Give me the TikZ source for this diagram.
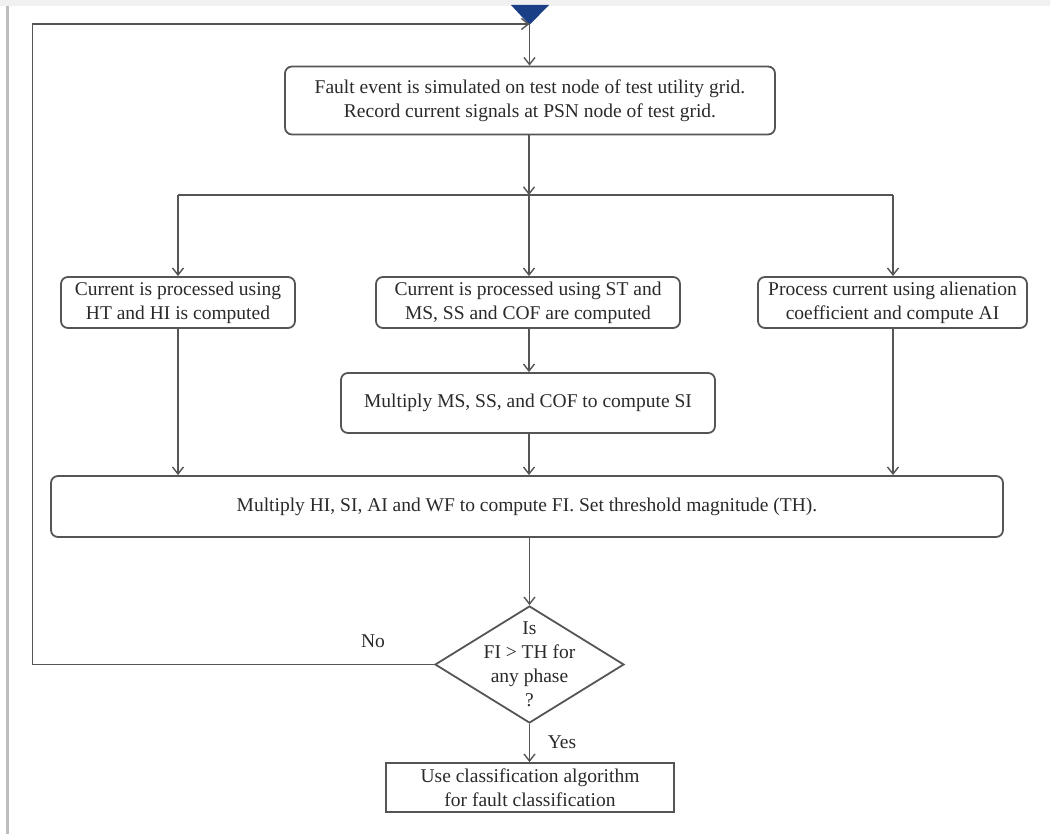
\documentclass[tikz,border=0pt]{standalone}
\usepackage{fontspec}
\setmainfont{Liberation Serif}
\usetikzlibrary{arrows.meta,shapes.geometric,positioning,calc}
\definecolor{linec}{HTML}{555555}
\definecolor{textc}{HTML}{2A2A2A}
\definecolor{navy}{HTML}{1A3F86}
\definecolor{band}{HTML}{F1F1F1}
\definecolor{bar}{HTML}{BDBDBD}
\tikzset{
  txt/.style={text=textc, font=\fontsize{19.5}{24}\selectfont},
  box/.style={draw=linec, line width=1.8pt, rounded corners=7pt, align=center,
    txt, inner sep=0pt},
  sqbox/.style={box, rounded corners=0pt},
  dec/.style={draw=linec, line width=1.8pt, diamond, inner sep=0pt},
  arr/.style={draw=linec, line width=1.8pt, -{Straight Barb[length=7pt,width=11pt,line width=1.4pt]}},
  ln/.style={draw=linec, line width=1.8pt},
  lbl/.style={txt, inner sep=0pt, align=center}
}
\begin{document}
\begin{tikzpicture}[x=1pt,y=-1pt]
\useasboundingbox (0,0) rectangle (1050,834);
% page furniture
\fill[band] (0,0) rectangle (1050,6);
\fill[bar] (6,6) rectangle (8.5,834);
\fill[navy] (511,5) -- (549,5) -- (529.5,25) -- cycle;

% nodes
\node[box, minimum width=490pt, minimum height=68pt] (top) at (530,100.5)
  {Fault event is simulated on test node of test utility grid.\\Record current signals at PSN node of test grid.};
\node[box, minimum width=234pt, minimum height=51pt] (L) at (178,302.5)
  {Current is processed using\\HT and HI is computed};
\node[box, minimum width=304pt, minimum height=51pt] (M) at (528,302.5)
  {Current is processed using ST and\\MS, SS and COF are computed};
\node[box, minimum width=269pt, minimum height=51pt] (R) at (892.5,302.5)
  {Process current using alienation\\coefficient and compute AI};
\node[box, minimum width=374pt, minimum height=60pt] (SI) at (528,403)
  {Multiply MS, SS, and COF to compute SI};
\node[box, minimum width=952pt, minimum height=61pt] (FI) at (527,506.5)
  {Multiply HI, SI, AI and WF to compute FI. Set threshold magnitude (TH).};
\node[dec, minimum width=189pt, minimum height=117pt] (dia) at (529.5,664.5) {};
\node[lbl] (diat) at (dia.center) {Is\\FI > TH for\\any phase\\?};
\node[sqbox, minimum width=288pt, minimum height=49pt] (cls) at (530,787.5)
  {Use classification algorithm\\for fault classification};

% coordinates
\coordinate (join) at (529.5,24);
\coordinate (fbt) at (32.5,24);
\coordinate (fbl) at (32.5,664.5);
\coordinate (br) at (529,195);
\coordinate (brL) at (178,195);
\coordinate (brR) at (893,195);

% connectors
\draw[ln] (dia.west) -- (fbl) -- (fbt) -- (join);
\draw[arr] (fbt) -- (join);
\draw[arr] (join) -- (join |- top.north);
\draw[arr] (top.south -| br) -- (br);
\draw[ln] (brL) -- (brR);
\draw[arr] (brL) -- (L.north);
\draw[arr] (br) -- (br |- M.north);
\draw[arr] (brR) -- (brR |- R.north);
\draw[arr] (br |- M.south) -- (br |- SI.north);
\draw[arr] (L.south) -- (L.south |- FI.north);
\draw[arr] (br |- SI.south) -- (br |- FI.north);
\draw[arr] (brR |- R.south) -- (brR |- FI.north);
\draw[arr] (dia.north |- FI.south) -- (dia.north);
\draw[arr] (dia.south) -- (dia.south |- cls.north);

% labels
\node[lbl] (no) at (373,641) {No};
\node[lbl] (yes) at (562,742) {Yes};
\end{tikzpicture}
\end{document}
